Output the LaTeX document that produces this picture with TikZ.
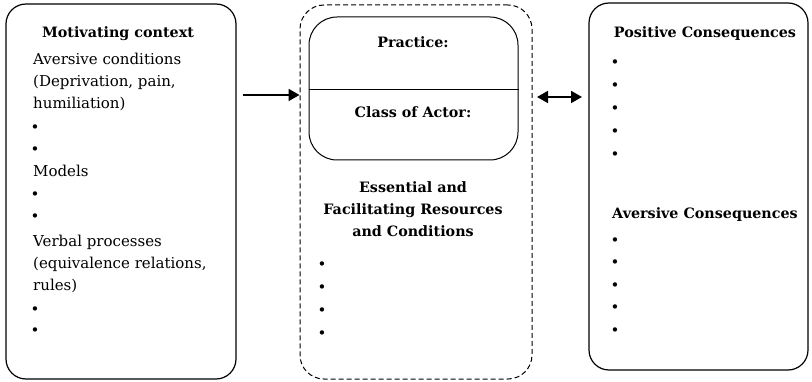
\documentclass[tikz,border=0pt]{standalone}
\usepackage{fontspec}
\setmainfont{DejaVu Serif}
\usetikzlibrary{arrows.meta}
\begin{document}
\begin{tikzpicture}[x=1pt,y=-1pt,
  panel/.style={draw, line width=1.2pt, rounded corners=20pt, inner sep=0pt},
  dashpanel/.style={draw, dash pattern=on 5pt off 3pt, line width=1pt, rounded corners=24pt, inner sep=0pt},
  headtxt/.style={anchor=base, inner sep=0pt, font=\fontsize{14.3}{16}\selectfont\bfseries},
  bodytxt/.style={anchor=base west, inner sep=0pt, font=\fontsize{15}{16}\selectfont},
  dot/.style={anchor=base, inner sep=0pt, font=\fontsize{15}{16}\selectfont},
  link/.style={line width=1.8pt}
]
\useasboundingbox (0,0) rectangle (812,382);

% three panels
\node[panel, minimum width=230pt, minimum height=375pt] (ctx) at (121,191.5) {};
\node[dashpanel, minimum width=232pt, minimum height=374pt] (res) at (416,192) {};
\node[draw, line width=1pt, rounded corners=28pt, minimum width=209pt, minimum height=143pt, inner sep=0pt] (pra) at (413.5,88.5) {};
\node[panel, minimum width=219pt, minimum height=367pt] (con) at (698.5,186.5) {};
\draw[line width=1pt] (pra.west |- 0,90) coordinate (dl) -- (pra.east |- 0,90) coordinate (dr);

% motivating context
\node[headtxt] (mhead) at (118,38) {Motivating context};
\node[bodytxt] (m1) at (33,65) {Aversive conditions};
\node[bodytxt] (m2) at (33,87) {(Deprivation, pain,};
\node[bodytxt] (m3) at (33,109) {humiliation)};
\node[dot] (m4) at (35,133) {•};
\node[dot] (m5) at (35,155) {•};
\node[bodytxt] (m6) at (33,177) {Models};
\node[dot] (m7) at (35,200) {•};
\node[dot] (m8) at (35,222) {•};
\node[bodytxt] (m9) at (33,247) {Verbal processes};
\node[bodytxt] (m10) at (33,269) {(equivalence relations,};
\node[bodytxt] (m11) at (33,291) {rules)};
\node[dot] (m12) at (35,315) {•};
\node[dot] (m13) at (35,336) {•};

% practice and resources
\node[headtxt] (phead) at (413,48) {Practice:};
\node[headtxt] (ahead) at (413,118) {Class of Actor:};
\node[headtxt] (r1) at (413,193) {Essential and};
\node[headtxt] (r2) at (413,215) {Facilitating Resources};
\node[headtxt] (r3) at (413,237) {and Conditions};
\node[dot] (r4) at (322,270) {•};
\node[dot] (r5) at (322,293) {•};
\node[dot] (r6) at (322,316) {•};
\node[dot] (r7) at (322,338) {•};

% consequences
\node[headtxt] (pos) at (705,38) {Positive Consequences};
\node[dot] (p1) at (615,68) {•};
\node[dot] (p2) at (615,91) {•};
\node[dot] (p3) at (615,114) {•};
\node[dot] (p4) at (615,137) {•};
\node[dot] (p5) at (615,160) {•};
\node[headtxt] (neg) at (705,219) {Aversive Consequences};
\node[dot] (n1) at (615,246) {•};
\node[dot] (n2) at (615,268) {•};
\node[dot] (n3) at (615,291) {•};
\node[dot] (n4) at (615,313) {•};
\node[dot] (n5) at (615,336) {•};

% connectors
\coordinate (a1) at (243,95);
\draw[link, -{Triangle[length=11pt,width=12pt]}] (a1) -- (res.west |- a1);
\coordinate (a2) at (537,97);
\draw[link, {Triangle[length=11pt,width=12pt]}-{Triangle[length=11pt,width=12pt]}] (a2) -- (582,97) coordinate (a3);
\end{tikzpicture}
\end{document}
